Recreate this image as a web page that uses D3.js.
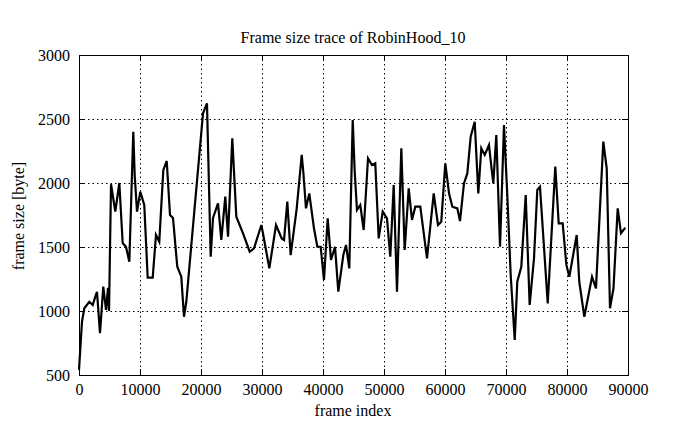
<!DOCTYPE html>
<html><head><meta charset="utf-8">
<script src="https://cdn.jsdelivr.net/npm/d3@7"></script>
<style>body{margin:0;background:#fff}svg{display:block}text{font-family:"Liberation Serif","DejaVu Serif",serif;fill:#000}</style>
</head><body>
<svg id="c" width="695" height="429"></svg>
<script>
const title = "Frame size trace of RobinHood_10";
const xLabel = "frame index";
const yLabel = "frame size [byte]";
const xTicks = [0,10000,20000,30000,40000,50000,60000,70000,80000,90000];
const yTicks = [500,1000,1500,2000,2500,3000];
const frameIndex = [0,490,870,1690,2250,2670,2950,3440,3980,4430,4750,4920,5250,5950,6610,7160,7700,8250,8900,9130,9510,10050,10700,11260,12080,12620,13160,13820,14380,14920,15410,16110,16770,17210,17590,20330,20980,21590,21970,22790,23330,23980,24430,25130,25790,26890,27980,28690,29890,30210,31200,32300,33230,33610,34150,34700,35690,36510,36770,37210,37750,38520,39070,39620,40160,40770,41310,41970,42510,43330,43770,44310,44870,45200,45570,46110,46670,47380,48030,48570,49130,49790,50490,51030,51590,52130,52840,53390,54050,54590,55130,55950,57050,58150,58850,59390,60050,60660,61200,62020,62460,63110,63660,64210,64870,65460,65950,66510,67210,67660,67920,68410,69020,69670,70210,70770,71430,71850,72510,73230,73880,74590,75130,75570,76840,78080,78640,79290,79900,80380,81590,82010,82840,84100,84750,85950,86510,87050,87620,88310,88850,89560];
const frameSize = [540,916,1021,1072,1047,1112,1150,826,1190,1008,1180,1000,1990,1776,2000,1531,1502,1385,2400,2062,1776,1932,1828,1260,1260,1594,1541,2100,2172,1750,1727,1346,1268,955,1072,2544,2622,1424,1727,1841,1555,1893,1580,2349,1737,1607,1463,1490,1672,1594,1333,1672,1567,1555,1854,1437,1802,2219,2088,1802,1919,1646,1502,1502,1242,1724,1398,1502,1151,1437,1516,1333,2492,2088,1789,1828,1633,2193,2141,2154,1567,1776,1724,1424,1984,1151,2271,1477,1958,1711,1815,1815,1411,1919,1672,1698,2154,1919,1815,1802,1703,1997,2075,2362,2479,1919,2271,2219,2297,2102,1997,2375,1502,2453,1906,1281,773,1229,1346,1906,1047,1411,1945,1970,1060,2128,1685,1685,1360,1268,1594,1229,955,1268,1177,2323,2115,1021,1177,1802,1607,1651];

const svg = d3.select("#c");
svg.append("rect").attr("width",695).attr("height",429).attr("fill","#fff");
const L=79, R=628, T=55, B=375;
const x = d3.scaleLinear().domain([0,90000]).range([L,R]);
const y = d3.scaleLinear().domain([500,3000]).range([B,T]);
const FS = 16;

// grid
const g = svg.append("g");
g.selectAll(".gx").data(xTicks.slice(1,-1)).join("line")
  .attr("x1",d=>x(d)+0.5).attr("x2",d=>x(d)+0.5).attr("y1",T).attr("y2",B)
  .attr("stroke","#000").attr("stroke-width",1).attr("stroke-dasharray","1.5,3");
g.selectAll(".gy").data(yTicks.slice(1,-1)).join("line")
  .attr("y1",d=>y(d)+0.5).attr("y2",d=>y(d)+0.5).attr("x1",L).attr("x2",R)
  .attr("stroke","#000").attr("stroke-width",1).attr("stroke-dasharray","1.5,3");

// axes
const fmt = d3.format("d");
const ax = svg.append("g").attr("transform",`translate(0,${B})`)
  .call(d3.axisBottom(x).tickValues(xTicks).tickFormat(fmt).tickSizeInner(-6).tickSizeOuter(0).tickPadding(9));
const axTop = svg.append("g").attr("transform",`translate(0,${T})`)
  .call(d3.axisTop(x).tickValues(xTicks).tickFormat("").tickSizeInner(-6).tickSizeOuter(0));
const ay = svg.append("g").attr("transform",`translate(${L},0)`)
  .call(d3.axisLeft(y).tickValues(yTicks).tickFormat(fmt).tickSizeInner(-6).tickSizeOuter(0).tickPadding(9));
const ayR = svg.append("g").attr("transform",`translate(${R},0)`)
  .call(d3.axisRight(y).tickValues(yTicks).tickFormat("").tickSizeInner(-6).tickSizeOuter(0));
[ax,axTop,ay,ayR].forEach(a=>{a.select(".domain").remove();a.selectAll("text").attr("font-size",FS).attr("font-family","Liberation Serif");a.selectAll("line").attr("stroke","#000");});
svg.append("rect").attr("x",L+0.5).attr("y",T+0.5).attr("width",R-L).attr("height",B-T)
  .attr("fill","none").attr("stroke","#000").attr("stroke-width",1);

// line
const pts = frameIndex.map((f,i)=>[f,frameSize[i]]);
svg.append("path").datum(pts)
  .attr("d",d3.line().x(d=>x(d[0])).y(d=>y(d[1])))
  .attr("fill","none").attr("stroke","#000").attr("stroke-width",2.2).attr("stroke-linejoin","miter");

svg.append("text").attr("x",353).attr("y",43).attr("text-anchor","middle").attr("font-size",FS).text(title);
svg.append("text").attr("x",353).attr("y",416).attr("text-anchor","middle").attr("font-size",FS).text(xLabel);
svg.append("text").attr("transform","translate(24,216) rotate(-90)").attr("text-anchor","middle").attr("font-size",FS).text(yLabel);
</script>
</body></html>
